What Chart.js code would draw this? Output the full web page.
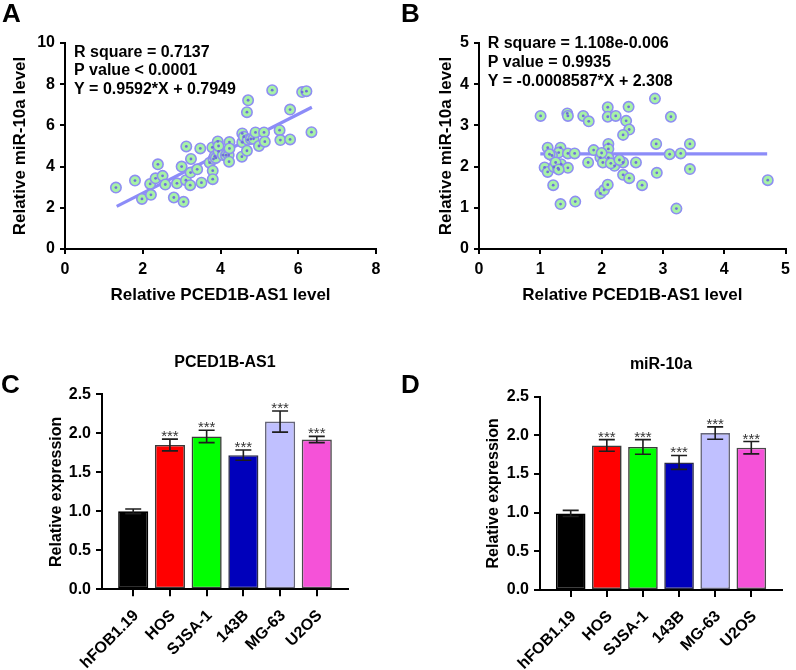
<!DOCTYPE html>
<html><head><meta charset="utf-8">
<script src="https://cdn.jsdelivr.net/npm/chart.js@4.4.1/dist/chart.umd.min.js"></script>
<style>
html,body{margin:0;padding:0;background:#fff}
body{width:796px;height:670px;position:relative;overflow:hidden;font-family:'Liberation Sans',Arial,sans-serif}
.pane{position:absolute}
.letter{position:absolute;font:bold 26px/26px 'Liberation Sans',Arial,sans-serif;color:#000}
</style></head><body>
<div class="pane" style="left:0;top:0"><canvas id="cA" width="400" height="330"></canvas></div>
<div class="pane" style="left:400px;top:0"><canvas id="cB" width="396" height="330"></canvas></div>
<div class="pane" style="left:0;top:330px"><canvas id="cC" width="400" height="340"></canvas></div>
<div class="pane" style="left:400px;top:330px"><canvas id="cD" width="396" height="340"></canvas></div>
<div class="letter" style="left:2px;top:0">A</div>
<div class="letter" style="left:401px;top:0">B</div>
<div class="letter" style="left:1px;top:371px">C</div>
<div class="letter" style="left:401px;top:371px">D</div>
<script>
// ---------- DATA ----------
const corrA_x = [1.31,1.80,1.98,2.21,2.19,2.33,2.39,2.51,2.58,2.80,2.88,3.00,3.05,3.12,3.11,3.23,3.22,3.24,3.40,3.48,3.51,3.72,3.79,3.80,3.80,3.82,3.85,3.88,3.93,3.95,3.95,4.06,4.14,4.21,4.23,4.22,4.23,4.56,4.56,4.55,4.60,4.71,4.68,4.68,4.70,4.78,4.85,4.90,4.99,5.12,5.14,5.33,5.52,5.54,5.79,5.79,6.10,6.21,6.34];
const corrA_y = [2.98,3.32,2.43,2.63,3.16,3.43,4.11,3.55,3.13,2.50,3.19,4.00,2.29,4.98,3.34,3.71,3.10,4.37,3.87,4.88,3.22,4.19,4.93,3.80,3.39,4.37,4.50,4.42,5.22,4.74,5.00,4.56,4.55,4.56,5.19,4.24,4.88,5.61,5.18,4.48,5.45,7.22,6.64,4.77,5.30,5.34,5.35,5.66,5.00,5.66,5.21,7.71,5.77,5.29,6.77,5.32,7.62,7.66,5.67];
const fitA_x = [1.33, 6.35];
const fitA_y = [2.07, 6.88];
const statsA = ['R square = 0.7137', 'P value < 0.0001', 'Y = 0.9592*X + 0.7949'];
const ticksA_x = [0, 2, 4, 6, 8];
const ticksA_y = [0, 2, 4, 6, 8, 10];

const corrB_x = [1.005,1.44,1.45,1.70,1.79,2.10,2.10,2.23,2.40,2.44,2.45,2.35,2.87,3.13,1.12,1.33,1.07,1.12,1.21,1.33,1.57,1.34,1.30,1.45,1.45,1.56,1.78,1.87,1.98,1.98,2.04,2.10,2.11,2.11,2.11,2.21,2.35,2.35,2.45,2.56,2.66,2.89,2.90,3.11,3.29,3.22,3.44,3.44,4.71,1.19,1.22,1.29,2.02,2.15,2.29,2.00,1.15,1.25,1.30];
const corrB_y = [3.23,3.29,3.23,3.23,3.10,3.44,3.21,3.23,3.11,3.45,2.90,2.77,3.65,3.21,2.46,2.46,1.98,1.87,1.55,1.09,1.15,2.06,2.34,1.97,2.32,2.32,2.10,2.40,2.22,1.35,1.43,1.56,2.55,2.43,2.22,2.02,2.10,1.80,1.72,2.10,1.55,2.55,1.85,2.30,2.32,0.98,2.55,1.94,1.67,2.27,1.99,1.96,2.10,2.08,2.16,2.33,2.30,2.10,1.93];
const fitB_x = [1.0, 4.7];
const fitB_y = [2.31, 2.31];
const statsB = ['R square = 1.108e-0.006', 'P value = 0.9935', 'Y = -0.0008587*X + 2.308'];
const ticksB_x = [0, 1, 2, 3, 4, 5];
const ticksB_y = [0, 1, 2, 3, 4, 5];

const cellLines = ['hFOB1.19', 'HOS', 'SJSA-1', '143B', 'MG-63', 'U2OS'];
const pcedMean = [1.00, 1.85, 1.96, 1.72, 2.15, 1.92];
const pcedErr  = [0.03, 0.075, 0.08, 0.065, 0.135, 0.04];
const mirMean  = [0.99, 1.87, 1.85, 1.65, 2.03, 1.84];
const mirErr   = [0.04, 0.075, 0.095, 0.09, 0.08, 0.08];
const sigMarks = ['', '***', '***', '***', '***', '***'];
const barTicks_y = [0, 0.5, 1.0, 1.5, 2.0, 2.5];

// ---------- STYLE ----------
const FONT = "'Liberation Sans', Arial, sans-serif";
Chart.defaults.font.family = FONT;
Chart.defaults.color = '#000';
const barFill = ['#000000', '#ff0000', '#00ff00', '#0000bb', '#c0c0ff', '#f552d8'];
const barEdge = ['#000000', '#3a3a3a', '#3a3a3a', '#2a2a4a', '#66667a', '#4a4a4a'];

const statTextPlugin = {
  id: 'statText',
  afterDraw(chart, args, o) {
    if (!o || !o.lines) return;
    const {ctx, chartArea} = chart;
    ctx.save();
    ctx.font = 'bold 16px ' + FONT;
    ctx.fillStyle = '#000';
    ctx.textBaseline = 'middle';
    ctx.textAlign = 'left';
    o.lines.forEach((t, i) => ctx.fillText(t, chartArea.left + o.dx, chartArea.top + o.dy + i * o.step));
    ctx.restore();
  }
};

const errorBarPlugin = {
  id: 'errorBars',
  afterDatasetsDraw(chart, args, o) {
    if (!o || !o.means) return;
    const {ctx} = chart;
    const xs = chart.scales.x, ys = chart.scales.y;
    ctx.save();
    ctx.strokeStyle = '#1e1e1e';
    ctx.lineWidth = 1.6;
    for (let i = 0; i < o.means.length; i++) {
      const px = xs.getPixelForValue(i);
      const top = ys.getPixelForValue(o.means[i] + o.errors[i]);
      const bot = ys.getPixelForValue(o.means[i] - o.errors[i]);
      ctx.beginPath();
      ctx.moveTo(px, top); ctx.lineTo(px, bot);
      ctx.moveTo(px - 8, top); ctx.lineTo(px + 8, top);
      ctx.moveTo(px - 8, bot); ctx.lineTo(px + 8, bot);
      ctx.stroke();
      if (o.marks[i]) {
        ctx.font = '15px ' + FONT;
        ctx.fillStyle = '#333';
        ctx.textAlign = 'center';
        ctx.textBaseline = 'alphabetic';
        ctx.fillText(o.marks[i], px, top + 2);
      }
    }
    ctx.restore();
  }
};

function axisCommon(tickArr, tickLen, pad, fmt) {
  return {
    type: 'linear',
    border: {display: true, color: '#000', width: 2},
    grid: {drawOnChartArea: false, drawTicks: true, tickLength: tickLen, color: '#000', lineWidth: 2},
    ticks: {font: {size: 16, weight: 'bold'}, color: '#000', padding: pad,
            callback: fmt || ((v) => String(v))},
    afterBuildTicks: (s) => { s.ticks = tickArr.map(v => ({value: v})); }
  };
}

function scatterChart(id, xs, ys, fx, fy, stats, tx, ty, L) {
  const pts = xs.map((x, i) => ({x: x, y: ys[i]}));
  const fit = fx.map((x, i) => ({x: x, y: fy[i]}));
  const xAxis = axisCommon(tx, 5, 6);
  Object.assign(xAxis, {min: tx[0], max: tx[tx.length - 1],
    title: {display: true, text: 'Relative PCED1B-AS1 level', color: '#000', font: {size: 17, weight: 'bold'}, padding: {top: 0, bottom: 4}},
    afterFit: (s) => { s.height = L.xH; }});
  const yAxis = axisCommon(ty, 5, 5);
  Object.assign(yAxis, {min: ty[0], max: ty[ty.length - 1],
    title: {display: true, text: 'Relative miR-10a level', color: '#000', font: {size: 17, weight: 'bold'}, padding: {top: 4, bottom: 0}},
    afterFit: (s) => { s.width = L.yW; }});
  new Chart(document.getElementById(id), {
    type: 'scatter',
    data: {datasets: [
      {type: 'line', data: fit, borderColor: '#8c8cf8', borderWidth: 3.2, pointRadius: 0, fill: false, order: 3},
      {data: pts, pointRadius: 5.2, pointBackgroundColor: '#a6f2a6', pointBorderColor: '#8e8ef2', pointBorderWidth: 1.6, order: 2},
      {data: pts, pointRadius: 1.4, pointBackgroundColor: '#6f6fd8', pointBorderWidth: 0, order: 1}
    ]},
    options: {
      responsive: false, animation: false, devicePixelRatio: 1,
      layout: {padding: L.pad},
      plugins: {legend: {display: false}, tooltip: {enabled: false},
        statText: {lines: stats, dx: L.dx, dy: L.dy, step: L.step}},
      scales: {x: xAxis, y: yAxis}
    },
    plugins: [statTextPlugin]
  });
}

function barChart(id, title, means, errs, L) {
  const xAxis = axisCommon(cellLines.map((c, i) => i), 7, 10, (v) => cellLines[v]);
  Object.assign(xAxis, {min: -0.85, max: 5.85, offset: false,
    ticks: Object.assign(xAxis.ticks, {autoSkip: false, maxRotation: 45, minRotation: 45, labelOffset: 3}),
    afterFit: (s) => { s.height = L.xH; }});
  xAxis.grid.offset = false;
  const yAxis = axisCommon(barTicks_y, 6, 5, (v) => Number(v).toFixed(1));
  Object.assign(yAxis, {min: 0, max: 2.5,
    title: {display: true, text: 'Relative expression', color: '#000', font: {size: 16, weight: 'bold'}, padding: {top: 4, bottom: 0}},
    afterFit: (s) => { s.width = L.yW; }});
  new Chart(document.getElementById(id), {
    type: 'bar',
    data: {datasets: [{
      data: means.map((m, i) => ({x: i, y: m})),
      backgroundColor: barFill, borderColor: barEdge, borderWidth: 1.6, borderSkipped: false,
      barPercentage: 0.82, categoryPercentage: 1.0
    }]},
    options: {
      responsive: false, animation: false, devicePixelRatio: 1,
      layout: {padding: L.pad},
      plugins: {legend: {display: false}, tooltip: {enabled: false},
        title: {display: true, text: title, fullSize: false, color: '#000', font: {size: 16, weight: 'bold'}, padding: L.tpad},
        errorBars: {means: means, errors: errs, marks: sigMarks}},
      scales: {x: xAxis, y: yAxis}
    },
    plugins: [errorBarPlugin]
  });
}

scatterChart('cA', corrA_x, corrA_y, fitA_x, fitA_y, statsA, ticksA_x, ticksA_y,
  {pad: {left: 6, right: 24, top: 43, bottom: 20}, yW: 59, xH: 61, dx: 9, dy: 9.7, step: 18.3});
scatterChart('cB', corrB_x, corrB_y, fitB_x, fitB_y, statsB, ticksB_x, ticksB_y,
  {pad: {left: 32, right: 5, top: 43, bottom: 20}, yW: 47, xH: 61, dx: 8.7, dy: 0.7, step: 18.8});
barChart('cC', 'PCED1B-AS1', pcedMean, pcedErr,
  {pad: {left: 43, right: 52, top: 10, bottom: 0}, yW: 59, xH: 80.7, tpad: {top: 12.9, bottom: 22.2}});
barChart('cD', 'miR-10a', mirMean, mirErr,
  {pad: {left: 80, right: 14, top: 10, bottom: 0}, yW: 60, xH: 80, tpad: {top: 15, bottom: 22.5}});
</script>
</body></html>
